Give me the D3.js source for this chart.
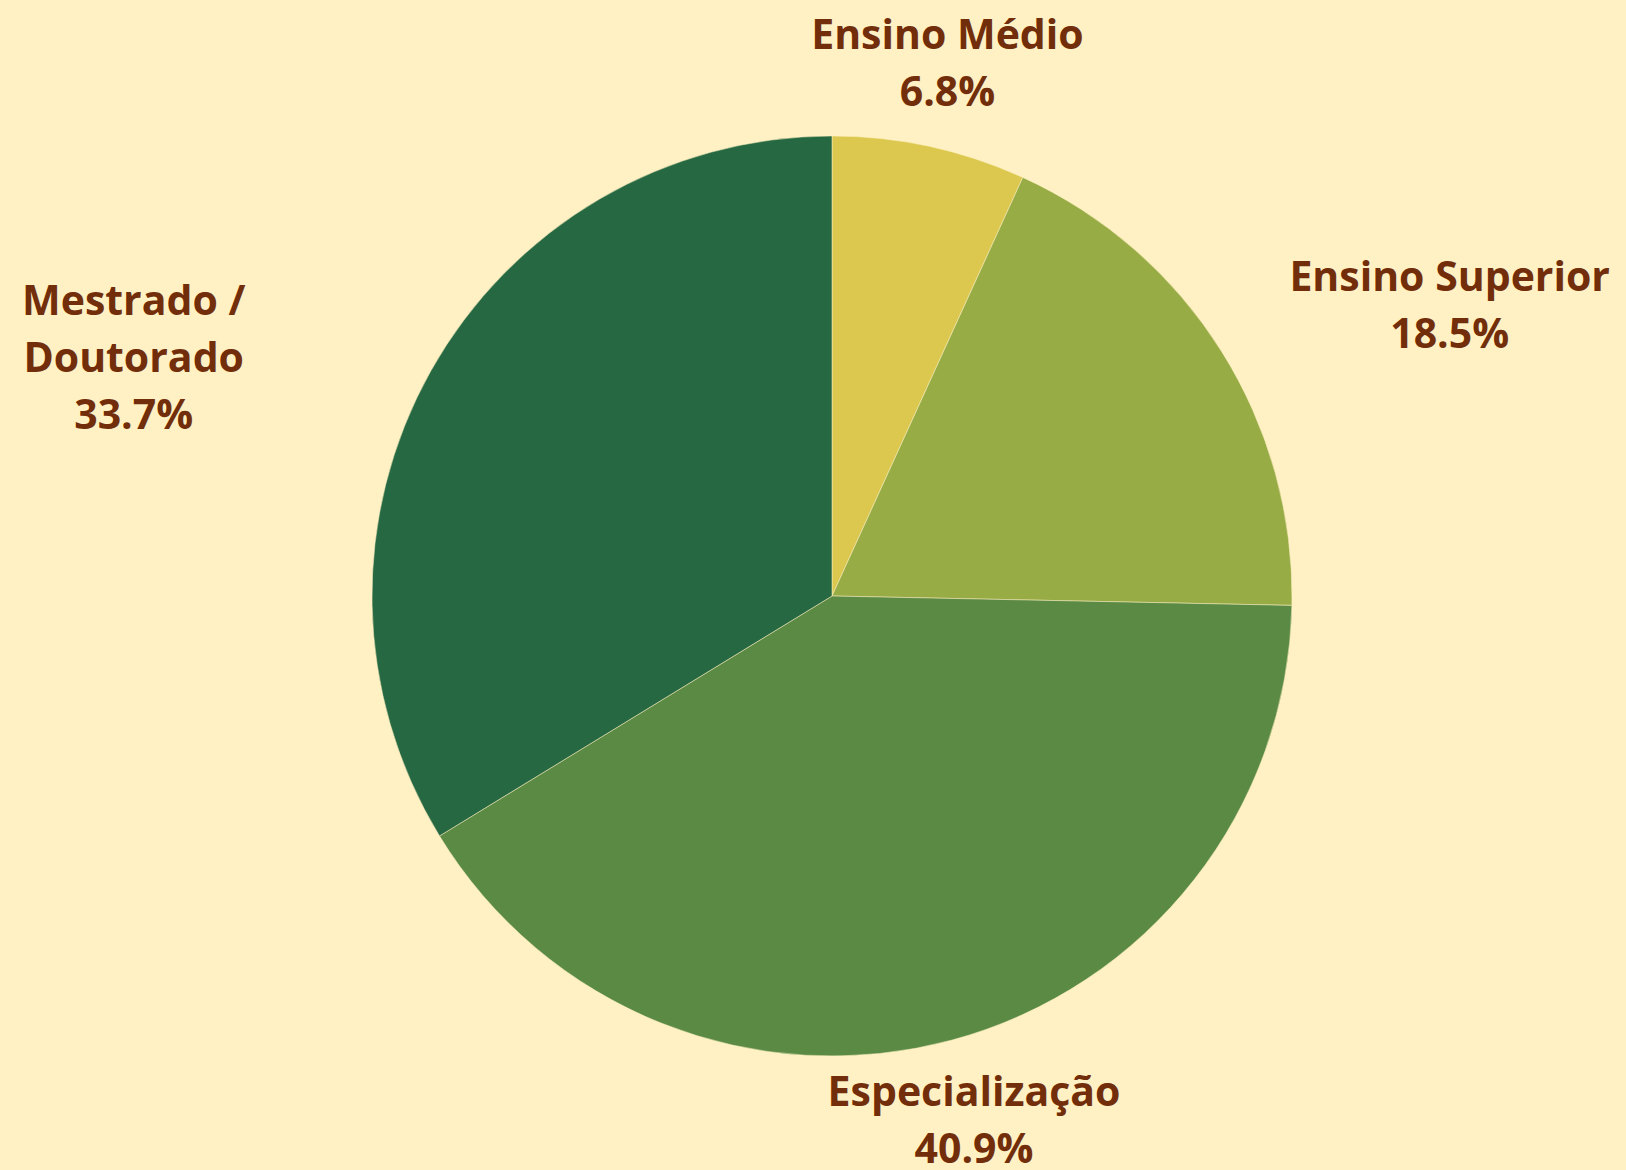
<!DOCTYPE html>
<html>
<head>
<meta charset="utf-8">
<script src="https://cdn.jsdelivr.net/npm/d3@7.9.0/dist/d3.min.js"></script>
<style>
  html, body { margin: 0; padding: 0; background: #fff1c4; }
  svg { display: block; }
  .label { font-family: "Open Sans", "Noto Sans", sans-serif; font-weight: 700; fill: #722e0a; }
</style>
</head>
<body>
<svg id="chart"></svg>
<script>
const categories = ['Ensino Médio', 'Ensino Superior', 'Especialização', 'Mestrado / Doutorado'];
const values = [6.8, 18.5, 40.9, 33.7];
const labelLines = [['Ensino Médio'], ['Ensino Superior'], ['Especialização'], ['Mestrado /', 'Doutorado']];
const colors = ['#dcc84f', '#98ac46', '#5a8a43', '#266841'];

const width = 1626;
const height = 1170;
const cx = 832;
const cy = 596;
const radius = 460;
const labelRadius = 544;
const lineHeight = 57;
const edgeMargin = 16;

const data = categories.map((c, i) => ({ label: c, value: values[i], lines: labelLines[i], color: colors[i] }));

const svg = d3.select('#chart')
  .attr('width', width)
  .attr('height', height);

const g = svg.append('g').attr('transform', `translate(${cx},${cy})`);

const pie = d3.pie().sort(null).value(d => d.value);
const arc = d3.arc().innerRadius(0).outerRadius(radius);
const labelArc = d3.arc().innerRadius(labelRadius).outerRadius(labelRadius);

const arcs = pie(data);

g.selectAll('path')
  .data(arcs)
  .enter()
  .append('path')
  .attr('d', arc)
  .attr('fill', d => d.data.color)
  .attr('stroke', '#fff1c4')
  .attr('stroke-opacity', 0.5)
  .attr('stroke-width', 1);

const labels = g.selectAll('text.label')
  .data(arcs)
  .enter()
  .append('text')
  .attr('class', 'label')
  .attr('font-size', 41)
  .attr('text-anchor', 'middle');

labels.each(function (d) {
  const [x, y] = labelArc.centroid(d);
  const text = d3.select(this);
  const lines = d.data.lines.concat([`${d.data.value.toFixed(1)}%`]);
  lines.forEach((line, i) => {
    text.append('tspan')
      .attr('x', x)
      .attr('y', y - 15 + i * lineHeight)
      .text(line);
  });

  // side labels get pushed out to the page edge
  const mid = (d.startAngle + d.endAngle) / 2;
  if (Math.abs(Math.sin(mid)) > 0.8) {
    const box = this.getBBox();
    let shift = 0;
    if (Math.sin(mid) > 0) {
      shift = (width - cx - edgeMargin) - (box.x + box.width);
    } else {
      shift = (-cx + edgeMargin + 6) - box.x;
    }
    text.selectAll('tspan').attr('x', x + shift);
  }
});
</script>
</body>
</html>
